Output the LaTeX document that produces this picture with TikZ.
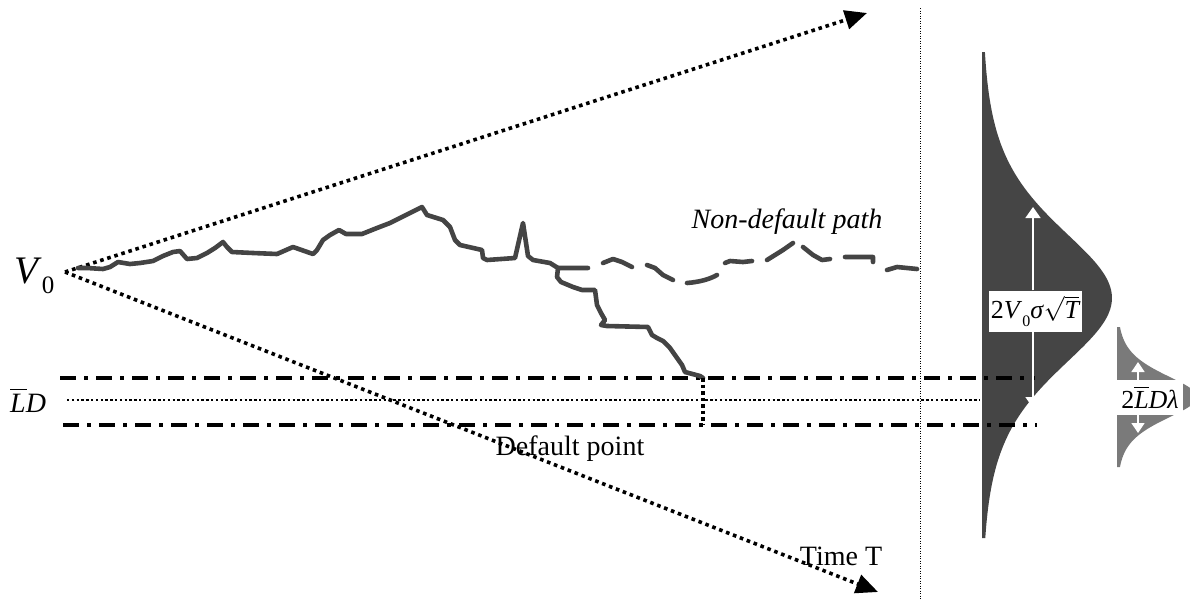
\documentclass[tikz,border=0pt]{standalone}
\usepackage{fontspec}
\setmainfont{Liberation Serif}
\usetikzlibrary{arrows.meta}
\definecolor{pathgray}{HTML}{444444}
\definecolor{distdark}{HTML}{454545}
\definecolor{distlight}{HTML}{7A7A7A}
\begin{document}
\begin{tikzpicture}[x=1pt,y=-1pt,
  walk/.style={draw=pathgray, line width=4.6pt, line join=round, line cap=round},
  cone/.style={line width=3.6pt, dash pattern=on 3.6pt off 3.8pt, -{Triangle[length=22pt,width=19pt]}},
  level/.style={line width=3.6pt, dash pattern=on 16pt off 8pt on 4pt off 8pt},
  midline/.style={line width=2.6pt, dash pattern=on 2.4pt off 2.4pt},
  thindot/.style={line width=1pt, dash pattern=on 1pt off 1.5pt},
  defdot/.style={line width=4pt, dash pattern=on 3.5pt off 3pt},
  lbl/.style={font=\fontsize{28}{32}\selectfont, inner sep=0pt},
  bigarrow/.style={draw=white, line width=1.6pt, -{Triangle[length=11pt,width=15pt]}},
  smallarrow/.style={draw=white, line width=1.6pt, -{Triangle[length=10pt,width=13pt]}}
]
\useasboundingbox (0,0) rectangle (1190,600);

% coordinates
\coordinate (O) at (65,272);
\coordinate (upT) at (867,13);
\coordinate (dnT) at (878,592);
\coordinate (vtop) at (920,8);
\coordinate (vbot) at (920,600);

% distributions
\begin{scope}
\clip (0,0) rectangle (1190,600);
\fill[distdark] (982,52) -- plot[domain=52:538, samples=160] ({982+130/(cosh((\x-298)/95))^2}, \x) -- (982,538) -- cycle;
\fill[distlight] (1117,327) -- plot[domain=327:467, samples=100] ({1117+80/(cosh((\x-397)/30))^2}, \x) -- (1117,467) -- cycle;
\end{scope}

% cone arrows
\draw[cone] (O) -- (upT);
\draw[cone] (O) -- (dnT);

% thin vertical at time T
\draw[thindot] (vtop) -- (vbot);

% barrier lines
\coordinate (l1a) at (60,378); \coordinate (l1b) at (1035,378);
\coordinate (l2a) at (63,425); \coordinate (l2b) at (1037,425);
\coordinate (mA) at (67,400); \coordinate (mB) at (980,400);
\draw[level] (l1a) -- (l1b);
\draw[level] (l2a) -- (l2b);
\draw[midline] (mA) -- (mB);

% random walk
\draw[walk] (78,268) -- (87,268) -- (103,269) -- (110,267) -- (118,262) -- (130,264) -- (140,263) -- (153,261) -- (163,256) -- (173,252) -- (180,251) -- (187,259) -- (197,258) -- (207,253) -- (215,248) -- (223,242) -- (227,247) -- (232,252) -- (253,253) -- (277,254) -- (293,247) -- (313,254) -- (317,250) -- (323,240) -- (330,235) -- (339,230) -- (346,234) -- (362,234) -- (377,228) -- (390,223) -- (422,207) -- (427,215) -- (443,220) -- (450,227) -- (455,240) -- (460,245) -- (482,250) -- (483,258) -- (487,260) -- (515,258) -- (523,223) -- (528,256) -- (533,260) -- (550,263) -- (558,268) coordinate (split) -- (588,268);
% non-default continuation (dashed)
\draw[walk] (603,263) -- (613,259) -- (622,262) -- (632,267)
  (647,265) -- (655,268) -- (663,275) -- (673,280)
  (687,283) .. controls (700,282) and (710,279) .. (717,275)
  (725,263) -- (730,261) -- (743,262) -- (752,261)
  (767,260) -- (783,250) -- (793,243)
  (803,247) -- (813,255) -- (822,260) -- (830,259)
  (845,257) -- (873,257) -- (873,262)
  (887,270) -- (897,267) -- (907,268) -- (917,269);
% default branch
\draw[walk] (split) -- (557,277) -- (561,282) -- (573,287) -- (582,290) -- (595,290) -- (597,305) -- (601,313) -- (605,320) -- (601,325) -- (607,326) -- (648,327) -- (652,335) -- (657,338) -- (663,341) -- (670,348) -- (682,365) -- (685,372) -- (700,376) -- (703,378) coordinate (hit);
\coordinate (hitb) at (703,425);
\draw[defdot] (hit) -- (hitb);

% labels
\node[anchor=base west, inner sep=0pt, font=\fontsize{39}{40}\selectfont] (v0) at (14,283) {\textit{V}\raisebox{-0.27em}{\fontsize{25}{26}\selectfont 0}};
\node[lbl, anchor=base west] (ld) at (10,412) {\textit{\makebox[0pt][l]{\raisebox{0.78em}{\rule{0.6em}{0.05em}}}LD}};
\node[lbl, anchor=base] (ndp) at (787,228) {\textit{Non-default path}};
\node[lbl, anchor=base] (dp) at (570,455) {Default point};
\node[lbl, anchor=base] (tt) at (841,565) {Time T};

% big distribution label and arrows
\node[fill=white, inner sep=0pt, minimum width=93pt, minimum height=41pt, font=\fontsize{26}{28}\selectfont] (sig) at (1035,311) {2\textit{V}\raisebox{-0.3em}{\fontsize{16}{16}\selectfont 0}\textit{σ}$\sqrt{\hbox{\itshape T}}$};
\coordinate (sigup) at (1033,207);
\coordinate (sigdn) at (1033,408);
\draw[bigarrow] (sig.north -| sigup) -- (sigup);
\draw[bigarrow] (sig.south -| sigdn) -- (sigdn);

% small distribution label and arrows
\node[fill=white, inner sep=0pt, minimum width=66pt, minimum height=35pt, font=\fontsize{26}{28}\selectfont] (lam) at (1150,397.5) {2\textit{\makebox[0pt][l]{\raisebox{0.78em}{\rule{0.55em}{0.05em}}}LDλ}};
\coordinate (lamup) at (1138,362);
\coordinate (lamdn) at (1138,433);
\draw[smallarrow] (lam.north -| lamup) -- (lamup);
\draw[smallarrow] (lam.south -| lamdn) -- (lamdn);
\end{tikzpicture}
\end{document}
